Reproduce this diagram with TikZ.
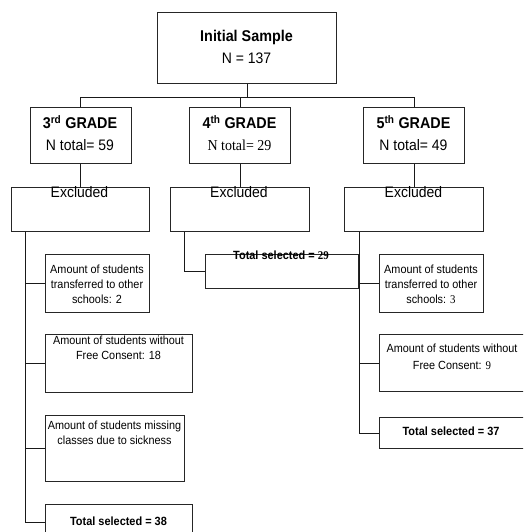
\documentclass[tikz,border=0pt]{standalone}
\usepackage{fontspec}
\setmainfont{Liberation Sans}[FakeStretch=0.92]
\newfontfamily\tms{Liberation Serif}[FakeStretch=0.92]
\begin{document}
\begin{tikzpicture}[x=1pt,y=-1pt,
  box/.style={draw=black!85, line width=0.9pt, inner sep=0pt, anchor=north west},
  conn/.style={draw=black!90, line width=0.8pt},
  big/.style={inner sep=0pt, anchor=mid, font=\fontsize{15.2}{17}\selectfont},
  bigb/.style={inner sep=0pt, anchor=mid, font=\fontsize{15.6}{17}\selectfont\bfseries},
  small/.style={inner sep=0pt, align=center, font=\fontsize{11.8}{15}\selectfont},
  smallb/.style={inner sep=0pt, anchor=mid, font=\fontsize{11.9}{13}\selectfont\bfseries}]
\useasboundingbox (0,0) rectangle (523,532);
\clip (0,0) rectangle (523,532);
% boxes
\node[box, minimum width=179pt, minimum height=71pt] (init) at (157,12) {};
\node[box, minimum width=101pt, minimum height=56pt] (g3) at (29.5,107) {};
\node[box, minimum width=101pt, minimum height=56pt] (g4) at (189,107) {};
\node[box, minimum width=101pt, minimum height=56pt] (g5) at (363,107) {};
\node[box, minimum width=138pt, minimum height=44pt] (ex3) at (11,187) {};
\node[box, minimum width=139pt, minimum height=44pt] (ex4) at (170,187) {};
\node[box, minimum width=139pt, minimum height=44pt] (ex5) at (344,187) {};
\node[box, minimum width=104pt, minimum height=58pt] (tr3) at (45,254) {};
\node[box, minimum width=147pt, minimum height=58pt] (wo3) at (45,334) {};
\node[box, minimum width=139pt, minimum height=66pt] (mis3) at (45,415) {};
\node[box, minimum width=147pt, minimum height=36pt] (tot38) at (45,504) {};
\node[box, minimum width=153pt, minimum height=34pt] (t29) at (205,254) {};
\node[box, minimum width=104pt, minimum height=58pt] (tr5) at (379,254) {};
\node[box, minimum width=150pt, minimum height=57pt] (wo5) at (379,334) {};
\node[box, minimum width=148pt, minimum height=31pt] (tot37) at (379,417) {};
% texts
\node[bigb] (initA) at (246.5,39) {Initial Sample};
\node[big] (initB) at (246.5,61) {N = 137};
\node[bigb] (g3A) at (80,126) {3\textsuperscript{rd} GRADE};
\node[big] (g3B) at (80,148) {N total= 59};
\node[bigb] (g4A) at (239.5,126) {4\textsuperscript{th} GRADE};
\node[big] (g4B) at (239.5,148) {\tms N total= 29};
\node[bigb] (g5A) at (413.5,126) {5\textsuperscript{th} GRADE};
\node[big] (g5B) at (413.5,148) {N total= 49};
\node[big] (ex3T) at (79.5,195) {Excluded};
\node[big] (ex4T) at (239,195) {Excluded};
\node[big] (ex5T) at (413.5,195) {Excluded};
\node[smallb] (t29T) at (281,257) {Total selected = {\tms 29}};
\node[small] (tr3T) at (97,284) {Amount of students\\transferred to other\\schools: 2};
\node[small] (wo3T) at (118.5,348) {Amount of students without\\Free Consent: 18};
\node[small] (mis3T) at (114.5,433) {Amount of students missing\\classes due to sickness};
\node[smallb] (tot38T) at (118.5,523) {Total selected = 38};
\node[small] (tr5T) at (431,284) {Amount of students\\transferred to other\\schools: {\tms 3}};
\node[small, font=\fontsize{11.8}{16.5}\selectfont] (wo5T) at (452,357) {Amount of students without\\Free Consent: {\tms 9}};
\node[smallb] (tot37T) at (451,433) {Total selected = 37};
% connectors
\draw[conn] (init.south) -- ++(0,14) coordinate (hub);
\draw[conn] (g3.north) |- (hub) -| (g5.north);
\draw[conn] (g4.north) -- (g4.north |- hub);
\draw[conn] (g3.south) -- (ex3.north);
\draw[conn] (g4.south) -- (ex4.north);
\draw[conn] (g5.south) -- (ex5.north);
\coordinate (s3) at ([xshift=14pt]ex3.south west);
\draw[conn] (s3) |- (tr3.west);
\draw[conn] (s3) |- (wo3.west);
\draw[conn] (s3) |- (mis3.west);
\draw[conn] (s3) |- (tot38.west);
\coordinate (s4) at ([xshift=14pt]ex4.south west);
\draw[conn] (s4) |- (t29.west);
\coordinate (s5) at ([xshift=15pt]ex5.south west);
\draw[conn] (s5) |- (tr5.west);
\draw[conn] (s5) |- (wo5.west);
\draw[conn] (s5) |- (tot37.west);
\end{tikzpicture}
\end{document}
